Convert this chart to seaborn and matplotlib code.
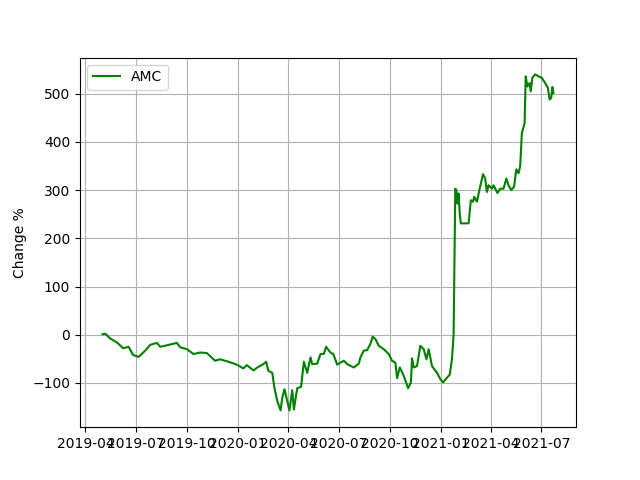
import matplotlib
matplotlib.use("Agg")
import matplotlib.pyplot as plt
import seaborn as sns
import pandas as pd

# fechas y cambio %
dates = [
    "2019-05-02", "2019-05-07", "2019-05-16", "2019-05-28", "2019-06-08", "2019-06-18",
    "2019-06-26", "2019-07-06", "2019-07-18", "2019-07-27", "2019-08-08", "2019-08-14",
    "2019-08-26", "2019-09-13", "2019-09-19", "2019-10-01", "2019-10-13", "2019-10-25",
    "2019-11-06", "2019-11-21", "2019-11-30", "2019-12-15", "2019-12-30", "2020-01-11",
    "2020-01-17", "2020-01-29", "2020-02-05", "2020-02-16", "2020-02-21", "2020-02-25",
    "2020-03-03", "2020-03-07", "2020-03-12", "2020-03-18", "2020-03-21", "2020-03-25",
    "2020-03-30", "2020-04-03", "2020-04-08", "2020-04-11", "2020-04-17", "2020-04-24",
    "2020-04-29", "2020-05-05", "2020-05-11", "2020-05-14", "2020-05-23", "2020-05-29",
    "2020-06-04", "2020-06-08", "2020-06-16", "2020-06-21", "2020-06-28", "2020-07-04",
    "2020-07-10", "2020-07-16", "2020-07-28", "2020-08-06", "2020-08-09", "2020-08-15",
    "2020-08-21", "2020-08-27", "2020-08-31", "2020-09-05", "2020-09-11", "2020-09-20",
    "2020-09-29", "2020-10-05", "2020-10-11", "2020-10-14", "2020-10-19", "2020-10-26",
    "2020-11-03", "2020-11-08", "2020-11-10", "2020-11-13", "2020-11-19", "2020-11-25",
    "2020-12-01", "2020-12-06", "2020-12-10", "2020-12-16", "2020-12-25", "2020-12-31",
    "2021-01-05", "2021-01-12", "2021-01-17", "2021-01-21", "2021-01-24", "2021-01-27",
    "2021-01-29", "2021-01-31", "2021-02-02", "2021-02-04", "2021-02-06", "2021-02-11",
    "2021-02-20", "2021-02-24", "2021-02-28", "2021-03-02", "2021-03-07", "2021-03-12",
    "2021-03-18", "2021-03-22", "2021-03-25", "2021-03-28", "2021-04-03", "2021-04-06",
    "2021-04-13", "2021-04-18", "2021-04-24", "2021-04-29", "2021-05-03", "2021-05-08",
    "2021-05-13", "2021-05-17", "2021-05-21", "2021-05-24", "2021-05-27", "2021-06-01",
    "2021-06-03", "2021-06-06", "2021-06-10", "2021-06-12", "2021-06-15", "2021-06-20",
    "2021-06-26", "2021-07-02", "2021-07-08", "2021-07-13", "2021-07-16", "2021-07-19",
    "2021-07-21", "2021-07-23",
]
change = [
    1, 2, -8, -16, -28, -25,
    -42, -46, -33, -21, -17, -25,
    -22, -17, -26, -30, -40, -37,
    -38, -54, -51, -56, -62, -70,
    -63, -74, -68, -61, -56, -75,
    -79, -111, -137, -157, -131, -113,
    -137, -157, -115, -155, -111, -108,
    -56, -79, -47, -61, -60, -40,
    -40, -25, -37, -40, -62, -58,
    -54, -61, -68, -60, -47, -33,
    -32, -19, -4, -9, -23, -30,
    -40, -54, -58, -90, -68, -85,
    -111, -99, -49, -68, -65, -23,
    -30, -51, -30, -65, -79, -92,
    -99, -89, -83, -51, 1, 303,
    300, 272, 293, 251, 231, 231,
    231, 279, 276, 286, 276, 303,
    333, 324, 296, 310, 303, 310,
    294, 303, 303, 324, 310, 300,
    307, 343, 335, 349, 418, 439,
    536, 515, 522, 505, 533, 540,
    536, 533, 522, 512, 488, 491,
    514, 501,
]

df = pd.DataFrame({"Date": pd.to_datetime(dates), "Change": change})

fig, ax = plt.subplots(figsize=(6.4, 4.8), dpi=100)
sns.lineplot(data=df, x="Date", y="Change", color="green", label="AMC", ax=ax)
ax.set_xlabel("")
ax.set_ylabel("Change %")
ax.grid(True)
ax.legend(loc="upper left")
fig.savefig("out.png", dpi=100)
